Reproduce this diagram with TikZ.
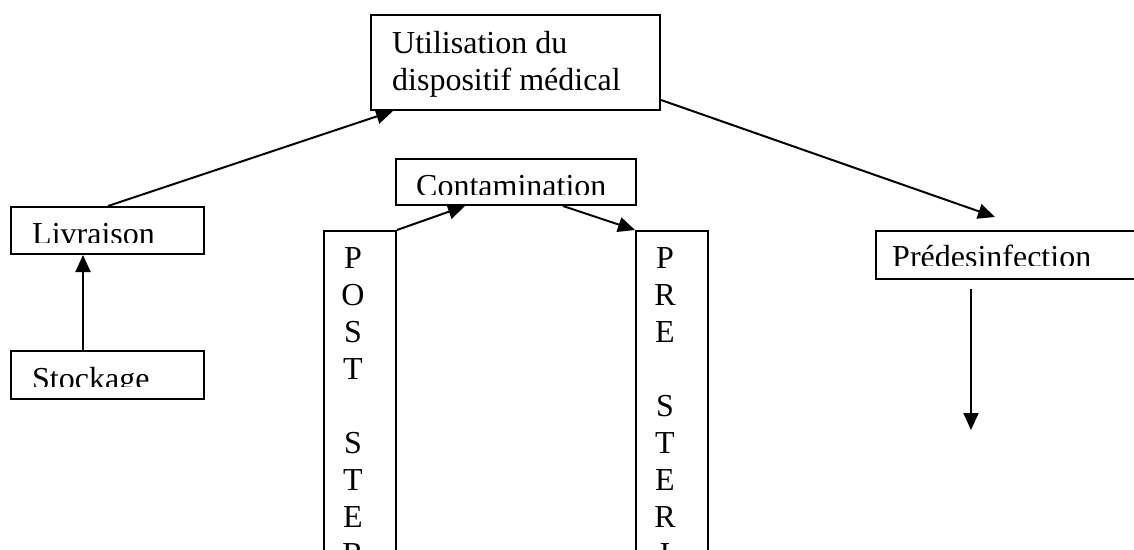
\documentclass[tikz,border=0pt]{standalone}
\usepackage{fontspec}
\setmainfont{Liberation Serif}
\usetikzlibrary{arrows.meta}
\begin{document}
\begin{tikzpicture}[x=1pt,y=-1pt,
  box/.style={draw,line width=2pt,rectangle,inner sep=0pt,anchor=north west},
  lbl/.style={inner sep=0pt,anchor=base west,font=\fontsize{32}{37}\selectfont},
  letter/.style={inner sep=0pt,anchor=base,font=\fontsize{32}{37}\selectfont},
  arr/.style={line width=2pt,-{Triangle[length=17pt,width=15pt]}}]
\useasboundingbox (0,0) rectangle (1134,549);
\clip (0,0) rectangle (1134,549);
\fill[white] (0,0) rectangle (1134,549);

% boxes
\node[box,minimum width=289pt,minimum height=95pt] (util) at (370,14) {};
\node[box,minimum width=193pt,minimum height=47pt] (livr) at (10,206) {};
\node[box,minimum width=193pt,minimum height=48pt] (stock) at (10,350) {};
\node[box,minimum width=240pt,minimum height=46pt] (cont) at (395,158) {};
\node[box,minimum width=270pt,minimum height=48pt] (pred) at (875,230) {};
\node[box,minimum width=72pt,minimum height=380pt] (post) at (323,230) {};
\node[box,minimum width=72pt,minimum height=380pt] (pre) at (635,230) {};

% box texts, trimmed at their frames' lower edge
\node[lbl] (utilA) at (392,53) {Utilisation du};
\node[lbl] (utilB) at (392,90) {dispositif médical};
\begin{scope}
  \clip (0,0) rectangle (300,242);
  \node[lbl] (livrT) at (32,244) {Livraison};
\end{scope}
\begin{scope}
  \clip (0,300) rectangle (300,386);
  \node[lbl] (stockT) at (32,389) {Stockage};
\end{scope}
\begin{scope}
  \clip (380,150) rectangle (650,194);
  \node[lbl] (contT) at (416,196) {Contamination};
\end{scope}
\begin{scope}
  \clip (860,220) rectangle (1134,265);
  \node[lbl] (predT) at (892,267) {Prédesinfection};
\end{scope}

% vertical lettering
\foreach \ch/\k in {P/0,O/1,S/2,T/3,S/5,T/6,E/7,R/8}
  \node[letter] (post\k) at (353,268+37*\k) {\ch};
\foreach \ch/\k in {P/0,R/1,E/2,S/4,T/5,E/6,R/7,I/8}
  \node[letter] (pre\k) at (665,268+37*\k) {\ch};

% connectors
\coordinate (predEnd) at (971,430);
\draw[arr] ([xshift=73pt]stock.north west) -- ([xshift=73pt]livr.south west);
\draw[arr] ([xshift=98pt]livr.north west) -- ([xshift=23pt]util.south west);
\draw[arr] ([yshift=11pt]util.south east) -- ([xshift=120pt,yshift=13pt]pred.north west);
\draw[arr] (post.north east) -- ([xshift=70pt]cont.south west);
\draw[arr] ([xshift=168pt]cont.south west) -- (pre.north west);
\draw[arr] ([xshift=96pt,yshift=-9pt]pred.south west) -- (predEnd);
\end{tikzpicture}
\end{document}
